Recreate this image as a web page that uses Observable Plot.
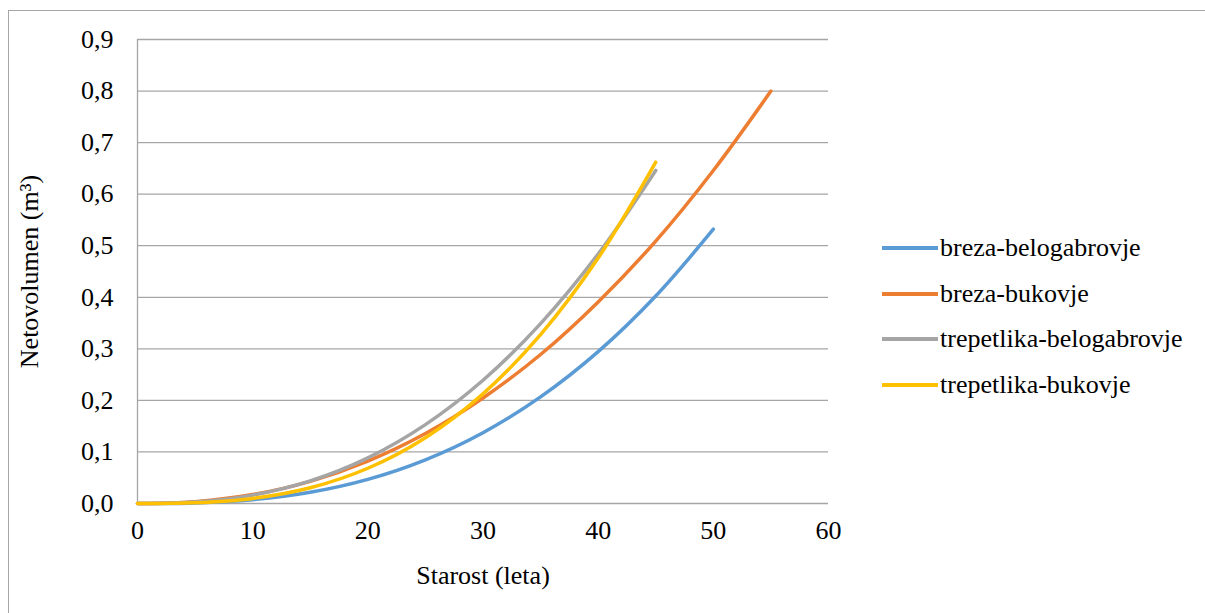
<!DOCTYPE html>
<html>
<head>
<meta charset="utf-8">
<script src="https://cdn.jsdelivr.net/npm/d3@7"></script>
<script src="https://cdn.jsdelivr.net/npm/@observablehq/plot@0.6"></script>
<style>
  html, body { margin: 0; padding: 0; background: #fff; overflow: hidden; width: 1205px; height: 613px; }
  #wrap { position: relative; width: 1205px; height: 613px; }
  #border { position: absolute; left: 8px; top: 10px; width: 1210px; height: 620px; border: 1px solid #a6a6a6; box-sizing: border-box; }
  #chart { position: absolute; left: 0; top: 0; }
  #legend { position: absolute; left: 882px; top: 225px; font-family: "Liberation Serif", "Times New Roman", serif; font-size: 26px; color: #000; }
  .row { display: flex; align-items: center; height: 45.7px; }
  .sw { width: 56px; height: 4px; margin-right: 2px; }
</style>
</head>
<body>
<div id="wrap">
  <div id="border"></div>
  <div id="chart"></div>
  <div id="legend"></div>
</div>
<script>
// Data
const ages = [0, 5, 10, 15, 20, 25, 30, 35, 40, 45, 50, 55];
const seriesNames = ["breza-belogabrovje", "breza-bukovje", "trepetlika-belogabrovje", "trepetlika-bukovje"];
const seriesColors = ["#5B9BD5", "#ED7D31", "#A5A5A5", "#FFC000"];
const brezaBelogabrovje = [0, 0.0012, 0.0075, 0.0219, 0.0469, 0.0848, 0.1374, 0.2067, 0.2945, 0.4024, 0.532];
const brezaBukovje = [0, 0.0036, 0.0173, 0.043, 0.0822, 0.1357, 0.2047, 0.289, 0.391, 0.509, 0.646, 0.80];
const trepetlikaBelogabrovje = [0, 0.003, 0.0162, 0.0438, 0.0885, 0.153, 0.239, 0.349, 0.484, 0.646];
const trepetlikaBukovje = [0, 0.0014, 0.0098, 0.0305, 0.0684, 0.1277, 0.2127, 0.3276, 0.476, 0.662];
const xTicks = [0, 10, 20, 30, 40, 50, 60];
const yTicks = [0, 0.1, 0.2, 0.3, 0.4, 0.5, 0.6, 0.7, 0.8, 0.9];
const xLabel = "Starost (leta)";
const yLabel = "Netovolumen (m³)";

const allSeries = [brezaBelogabrovje, brezaBukovje, trepetlikaBelogabrovje, trepetlikaBukovje];
const rows = [];
allSeries.forEach((vals, i) => {
  vals.forEach((v, j) => rows.push({series: seriesNames[i], age: ages[j], v}));
});

const font = "'Liberation Serif', 'Times New Roman', serif";
const chart = Plot.plot({
  width: 1205,
  height: 613,
  marginLeft: 137,
  marginRight: 377,
  marginTop: 39,
  marginBottom: 110,
  style: {fontFamily: font, fontSize: "26px", color: "#000", background: "transparent", overflow: "visible"},
  x: {domain: [0, 60]},
  y: {domain: [0, 0.9]},
  color: {domain: seriesNames, range: seriesColors},
  marks: [
    Plot.ruleY(yTicks, {stroke: "#a6a6a6", strokeWidth: 1.3}),
    Plot.ruleX([0], {stroke: "#a6a6a6", strokeWidth: 1.3}),
    Plot.axisX(xTicks, {tickSize: 0, tickPadding: 17, tickFormat: d => String(d), label: xLabel, labelAnchor: "center", labelArrow: "none", labelOffset: 80, fontSize: 26}),
    Plot.axisY(yTicks, {tickSize: 0, tickPadding: 24, tickFormat: d => d3.format(".1f")(d).replace(".", ","), label: yLabel, labelAnchor: "center", labelArrow: "none", labelOffset: 118, fontSize: 26}),
    Plot.line(rows, {x: "age", y: "v", z: "series", stroke: "series", curve: "catmull-rom", strokeWidth: 3.5, strokeLinecap: "round"})
  ]
});
document.getElementById("chart").appendChild(chart);

const legend = document.getElementById("legend");
seriesNames.forEach((name, i) => {
  const r = document.createElement("div");
  r.className = "row";
  const sw = document.createElement("div");
  sw.className = "sw";
  sw.style.background = seriesColors[i];
  const t = document.createElement("span");
  t.textContent = name;
  r.appendChild(sw);
  r.appendChild(t);
  legend.appendChild(r);
});
</script>
</body>
</html>
